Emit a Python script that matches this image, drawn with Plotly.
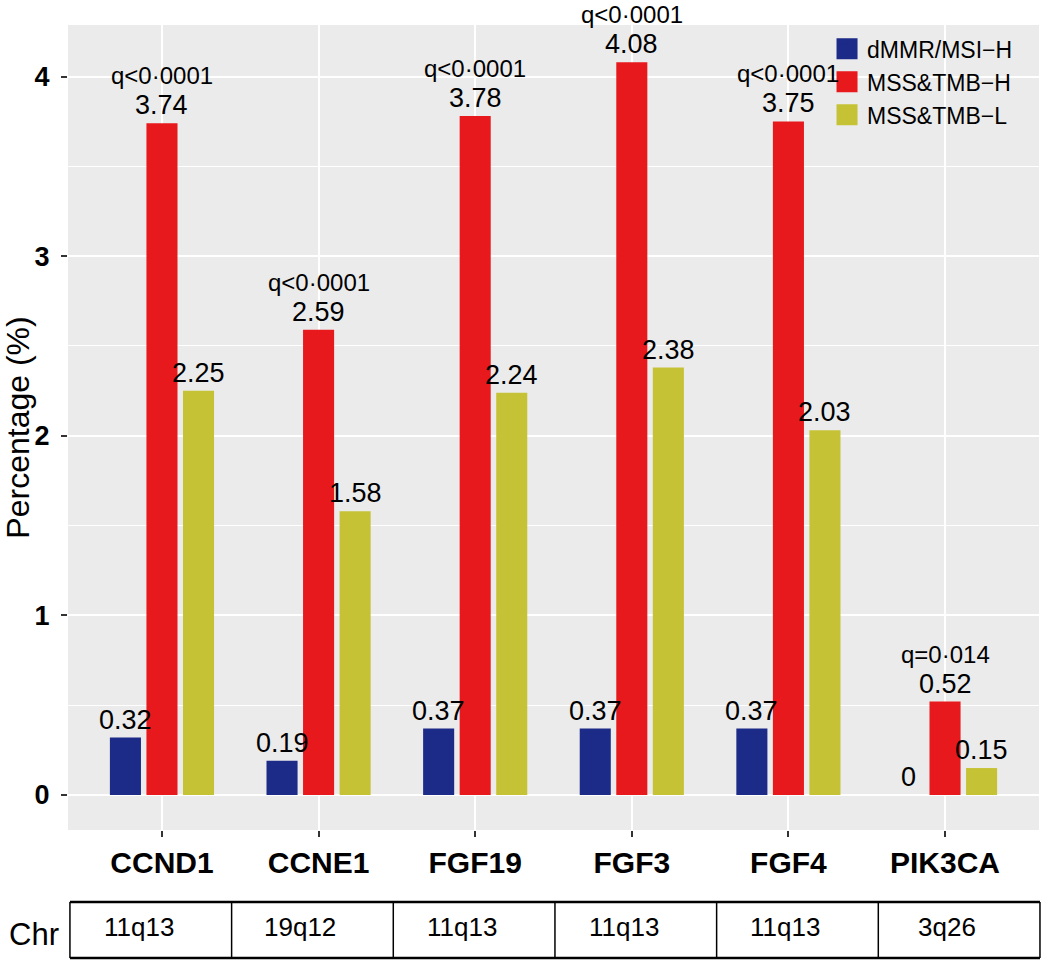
import plotly.graph_objects as go

genes = ["CCND1", "CCNE1", "FGF19", "FGF3", "FGF4", "PIK3CA"]
chr_bands = ["11q13", "19q12", "11q13", "11q13", "11q13", "3q26"]
series_names = ["dMMR/MSI\u2212H", "MSS&TMB\u2212H", "MSS&TMB\u2212L"]
dmmr = [0.32, 0.19, 0.37, 0.37, 0.37, 0.0]
tmb_h = [3.74, 2.59, 3.78, 4.08, 3.75, 0.52]
tmb_l = [2.25, 1.58, 2.24, 2.38, 2.03, 0.15]
q_labels = ["q<0\u00b70001", "q<0\u00b70001", "q<0\u00b70001", "q<0\u00b70001", "q<0\u00b70001", "q=0\u00b7014"]
colors = ["#1C2A88", "#E8191C", "#C6C236"]

FONT = "Arial, Liberation Sans, sans-serif"
series = [dmmr, tmb_h, tmb_l]

fig = go.Figure()
for name, vals, col in zip(series_names, series, colors):
    fig.add_trace(go.Bar(x=genes, y=vals, name=name, marker=dict(color=col, line=dict(width=0)),
                         showlegend=False, legendgroup=name))
# legend entries with large square keys
for name, col in zip(series_names, colors):
    fig.add_trace(go.Scatter(x=[None], y=[None], mode="markers", name=name, legendgroup=name,
                             marker=dict(symbol="square", size=30, color=col, line=dict(color=col, width=6))))

annotations = []
slot_px = 36.5
for i, vals in enumerate(series):
    for g, v in zip(genes, vals):
        annotations.append(dict(x=g, y=v, xref="x", yref="y", text=f"{v:g}", showarrow=False,
                                xshift=(i - 1) * slot_px, yshift=1, xanchor="center", yanchor="bottom",
                                font=dict(family=FONT, size=27, color="black")))
for g, v, q in zip(genes, tmb_h, q_labels):
    annotations.append(dict(x=g, y=v, xref="x", yref="y", text=q, showarrow=False,
                            yshift=32, xanchor="center", yanchor="bottom",
                            font=dict(family=FONT, size=24, color="black")))

# chromosome band table below the plot
table_top, table_bot = -0.0894, -0.159
shapes = [
    dict(type="line", xref="paper", yref="paper", x0=0.002, x1=1.001, y0=table_top, y1=table_top,
         line=dict(color="black", width=2.5)),
    dict(type="line", xref="paper", yref="paper", x0=0.002, x1=1.001, y0=table_bot, y1=table_bot,
         line=dict(color="black", width=2.5)),
]
n = len(chr_bands)
for k in range(n + 1):
    xp = 0.002 + k * (0.999 / n)
    shapes.append(dict(type="line", xref="paper", yref="paper", x0=xp, x1=xp, y0=table_top, y1=table_bot,
                       line=dict(color="black", width=1.5)))
for k, band in enumerate(chr_bands):
    xc = 0.002 + (k + 0.5) * (0.999 / n)
    annotations.append(dict(x=xc, y=-0.1205, xref="paper", yref="paper", text=band, showarrow=False,
                            xshift=-12, xanchor="center", yanchor="middle",
                            font=dict(family=FONT, size=26, color="black")))
annotations.append(dict(x=-0.035, y=-0.130, xref="paper", yref="paper", text="Chr", showarrow=False,
                        xanchor="center", yanchor="middle",
                        font=dict(family=FONT, size=31, color="black")))

fig.update_layout(
    width=1050, height=967,
    margin=dict(l=68, r=11, t=25, b=137),
    paper_bgcolor="white", plot_bgcolor="#EBEBEB",
    barmode="group", bargap=0.3, bargroupgap=0.15,
    font=dict(family=FONT, color="black"),
    annotations=annotations, shapes=shapes,
    legend=dict(x=0.7817, xanchor="left", y=0.997, yanchor="top", bgcolor="rgba(0,0,0,0)",
                font=dict(family=FONT, size=23, color="black"), tracegroupgap=0, itemwidth=30),
    showlegend=True,
)
fig.update_xaxes(type="category", categoryorder="array", categoryarray=genes, range=[-0.6, 5.6],
                 showgrid=True, gridcolor="white", gridwidth=2.2, zeroline=False, automargin=False,
                 ticks="outside", ticklen=6, tickwidth=2, tickcolor="#333333",
                 tickfont=dict(family=FONT, size=30, color="black", weight="bold"), showline=False)
fig.update_yaxes(range=[-0.195, 4.287], dtick=1, tick0=0, showgrid=True, gridcolor="white", gridwidth=2.2,
                 zeroline=False, automargin=False, ticks="outside", ticklen=6, tickwidth=2, tickcolor="#333333",
                 ticklabelstandoff=6,
                 tickfont=dict(family=FONT, size=27, color="black", weight="bold"),
                 minor=dict(dtick=0.5, showgrid=True, gridcolor="white", gridwidth=1.1),
                 title=dict(text="\u00a0" * 5 + "Percentage (%)",
                            font=dict(family=FONT, size=32, color="black"), standoff=0),
                 showline=False)

fig.write_html("out.html", config={"displayModeBar": False},
               post_script="document.body.style.margin='0';")
